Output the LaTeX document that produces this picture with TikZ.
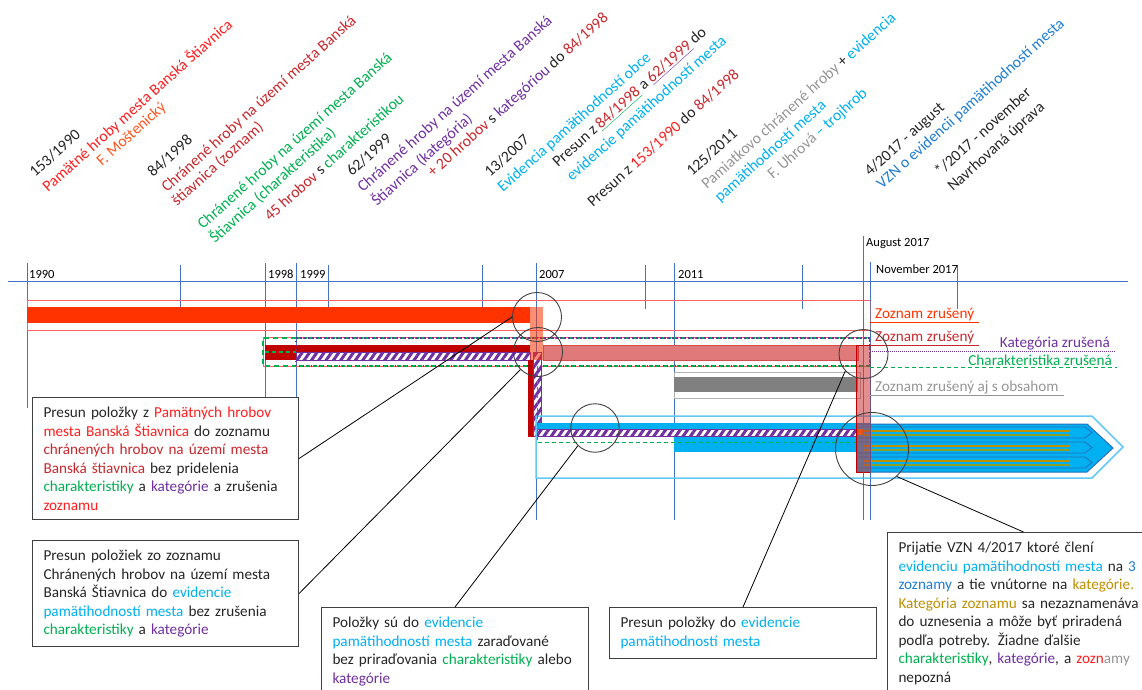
\documentclass[tikz,border=0pt]{standalone}
\usepackage{fontspec}
\setmainfont{Carlito}
\usetikzlibrary{patterns.meta}

\definecolor{txt}{RGB}{38,38,38}
\definecolor{tickblue}{RGB}{68,114,196}
\definecolor{zred}{RGB}{255,30,30}
\definecolor{zorange}{RGB}{255,51,0}
\definecolor{zorangetxt}{RGB}{255,85,30}
\definecolor{zdark}{RGB}{192,0,0}
\definecolor{zdarktxt}{RGB}{200,40,45}
\definecolor{zlight}{RGB}{255,100,100}
\definecolor{salmon}{RGB}{224,122,122}
\definecolor{chgreen}{RGB}{0,176,80}
\definecolor{katpurple}{RGB}{112,48,160}
\definecolor{evblue}{RGB}{0,176,240}
\definecolor{lightblue}{RGB}{100,200,245}
\definecolor{darkblue}{RGB}{40,110,190}
\definecolor{vznblue}{RGB}{30,125,210}
\definecolor{katgold}{RGB}{191,144,0}
\definecolor{olivegreen}{RGB}{140,160,40}
\definecolor{greytxt}{RGB}{150,150,150}
\definecolor{zgrey}{RGB}{128,128,128}
\definecolor{ringgrey}{RGB}{64,64,64}

\newcommand\myboxfont{\fontsize{15.2}{18.5}\selectfont}
\newcommand\mylabelfont{\fontsize{15.8}{19}\selectfont}
\newcommand\myyearfont{\fontsize{12.5}{14}\selectfont}

\begin{document}
\begin{tikzpicture}[x=1pt,y=-1pt,
        mytick/.style={draw=tickblue,line width=1pt},
        mybox/.style={
            draw=ringgrey,
            line width=1pt,
            fill=white,
            anchor=north west,
            align=left,
            inner xsep=11pt,
            inner ysep=9.5pt,
            text=txt,
            font=\myboxfont},
        mylabel/.style={rotate=42,anchor=base west,inner sep=0pt,text=txt,font=\mylabelfont},
        myyear/.style={anchor=west,inner sep=0pt,text=black,font=\myyearfont},
        mystatus/.style={anchor=south west,inner xsep=5pt,inner ysep=1pt,font=\myboxfont},
        myring/.style={circle,draw=ringgrey,line width=0.9pt,minimum size=49pt,inner sep=0pt},
        mycallout/.style={draw=black,line width=0.8pt},
        myhatch/.style={fill=white,draw=katpurple,line width=0.6pt,
            postaction={pattern={Lines[angle=55,distance=6pt,line width=3pt]},pattern color=katpurple}},
        mygreendash/.style={draw=chgreen,dash pattern=on 4pt off 3pt}
        ]
    \useasboundingbox (0,0) rectangle (1142,690);
    \clip (0,0) rectangle (1142,690);

    % time axis
    \foreach \x/\ya/\yb in {27/263/408, 180/265/309, 265/263/408, 296/263/408,
                            328/265/309, 482/265/309, 536/263/520, 645/265/309,
                            674/263/520, 802/265/309, 863/236/520, 870/262/520, 957/265/309}
        \draw[mytick] (\x,\ya) -- (\x,\yb);
    \draw[mytick] (8,281) -- (1128,281);

    \node[myyear] (y1) at (29,274) {1990};
    \node[myyear] (y2) at (268,274) {1998};
    \node[myyear] (y3) at (300,274) {1999};
    \node[myyear] (y4) at (539,274) {2007};
    \node[myyear] (y5) at (678,274) {2011};
    \node[myyear] (y6) at (866,244) {August 2017};
    \node[myyear] (y7) at (876,269) {November 2017};

    % 153/1990
    \draw[zlight,line width=1pt] (27,300.5) rectangle (870,330);
    \fill[zorange] (27,307) rectangle (530,323);

    % 84/1998 and 62/1999
    \draw[zlight,line width=1pt] (263,337) rectangle (870,366);
    \fill[zdark] (265,345) rectangle (530,360);
    \path[myhatch] (296,352) rectangle (530,360);
    \draw[chgreen,line width=2pt,dash pattern=on 5pt off 4pt] (296,338) -- (263,338) -- (263,366) -- (296,366);
    \draw[mygreendash,line width=1.3pt] (265,352) -- (296,352);
    \draw[mygreendash,line width=2pt] (296,338) -- (870,338) -- (870,366) -- (296,366);
    \draw[katpurple,line width=2pt,dash pattern=on 1.5pt off 2.5pt] (296,338) -- (870,338) -- (870,366) -- (296,366) -- cycle;
    \filldraw[fill=salmon,draw=zdark!70,line width=0.6pt] (543,345) rectangle (858,360);

    \fill[zdark] (528,360) rectangle (533,437);
    \path[myhatch] (533,352) rectangle (541,436);
    \fill[zorange,opacity=0.55] (530,307) rectangle (543,360);

    % 125/2011
    \draw[zgrey!60,line width=1pt] (674,372) rectangle (860,398);
    \fill[zgrey] (674,377) rectangle (858,392);

    % 13/2007 and 4/2017
    \draw[lightblue,line width=1.5pt] (536,416) -- (1092,416) -- (1123,447) -- (1092,478) -- (536,478) -- cycle;
    \fill[evblue] (537,423) rectangle (674,429);
    \fill[evblue] (674,423) rectangle (870,452);
    \path[myhatch] (537,429) rectangle (860,436);
    \draw[mygreendash,line width=1pt] (537,366) -- (537,442) -- (863,442);
    \filldraw[fill=evblue,draw=darkblue,line width=1pt] (857,424) -- (1087,424) -- (1113,448) -- (1087,472) -- (857,472) -- cycle;
    \foreach \t in {427,442,457} {
        \draw[darkblue,line width=0.8pt] (857,\t) -- (1085,\t) -- (1092,\t+5.5) -- (1085,\t+11) -- (857,\t+11) -- cycle;
        \draw[katgold,line width=1.2pt] (863,\t+4) -- (1070,\t+4);
        \draw[olivegreen,line width=1.2pt] (863,\t+8) -- (1070,\t+8);
    }
    \fill[orange] (858,429) rectangle (864,435);
    \filldraw[fill=zdark!80!white,fill opacity=0.55,draw=zdark,line width=0.8pt] (856,345) rectangle (870,472);
    \draw[mytick,opacity=0.7] (863,300) -- (863,520);
    \draw[mytick,opacity=0.7] (870,300) -- (870,520);

    % end of the lists
    \coordinate (k0) at (870,351);
    \coordinate (h0) at (870,367);
    \node[mystatus,text=zorange] (s1) at (870,322) {Zoznam zrušený};
    \draw[zorange,line width=1pt] (s1.south west) -- (s1.south east);
    \node[mystatus,text=zdarktxt] (s2) at (870,345) {Zoznam zrušený};
    \draw[zdarktxt,line width=1pt] (s2.south west) -- (s2.south east);
    \node[mystatus,anchor=south east,text=katpurple] (s3) at (1115,351) {Kategória zrušená};
    \draw[katpurple,line width=1pt,dash pattern=on 1pt off 1pt] (k0) -- (s3.south east);
    \node[mystatus,anchor=south east,text=chgreen] (s4) at (1117,367) {Charakteristika zrušená};
    \draw[mygreendash,line width=1pt] (h0) -- (s4.south east);
    \node[mystatus,text=greytxt] (s5) at (870,395) {Zoznam zrušený aj s obsahom};
    \draw[greytxt,line width=1pt] (s5.south west) -- (s5.south east);

    % rotated notes above the axis
    \node[mylabel] (l1a) at (35,178) {153/1990};
    \node[mylabel,text=zred] (l1b) at (48,193) {Pamätné hroby mesta Banská Štiavnica};
    \node[mylabel,text=zorangetxt] (l1c) at (102,167) {F. Moštenický};
    \node[mylabel] (l2a) at (153,178) {84/1998};
    \node[mylabel,text=zdarktxt] (l2b) at (167,193) {Chránené hroby na území mesta Banská};
    \node[mylabel,text=zdarktxt] (l2c) at (177,207) {štiavnica (zoznam)};
    \node[mylabel,text=chgreen] (l3a) at (203,230) {Chránené hroby na území mesta Banská};
    \node[mylabel,text=chgreen] (l3b) at (215,244) {Štiavnica (charakteristika)};
    \node[mylabel] (l3c) at (270,222) {\textcolor{zdarktxt}{45 hrobov} s \textcolor{chgreen}{charakteristikou}};
    \node[mylabel] (l4a) at (352,177) {62/1999};
    \node[mylabel,text=katpurple] (l4b) at (363,193) {Chránené hroby na území mesta Banská};
    \node[mylabel,text=katpurple] (l4c) at (377,207) {Štiavnica (kategória)};
    \node[mylabel] (l4d) at (433,178) {\textcolor{zdarktxt}{+ 20 hrobov} s \textcolor{katpurple}{kategóriou} do \textcolor{zdarktxt}{84/1998}};
    \node[mylabel] (l5a) at (490,178) {13/2007};
    \node[mylabel,text=evblue] (l5b) at (503,193) {Evidencia pamätihodností obce};
    \node[mylabel] (l6a) at (558,168) {Presun z {\color{chgreen}\underline{\textcolor{zdarktxt}{84/1998}}} a {\color{katpurple}\underline{\textcolor{zdarktxt}{62/1999}}} do};
    \node[mylabel,text=evblue] (l6b) at (572,182) {evidencie pamätihodností mesta};
    \node[mylabel] (l6c) at (593,208) {Presun z \textcolor{zred}{153/1990} do \textcolor{zdarktxt}{84/1998}};
    \node[mylabel] (l7a) at (692,177) {125/2011};
    \node[mylabel] (l7b) at (707,190) {\textcolor{greytxt}{Pamiatkovo chránené hroby} + \textcolor{evblue}{evidencia}};
    \node[mylabel,text=evblue] (l7c) at (720,203) {pamätihodností mesta};
    \node[mylabel] (l7d) at (773,180) {\textcolor{greytxt}{F. Uhrová} \textcolor{evblue}{– trojhrob}};
    \node[mylabel] (l8a) at (870,177) {4/2017 - august};
    \node[mylabel,text=vznblue] (l8b) at (882,190) {VZN o evidencii pamätihodností mesta};
    \node[mylabel] (l9a) at (940,177) {*/2017 - november};
    \node[mylabel] (l9b) at (953,192) {Navrhovaná úprava};

    % circles and callouts
    \node[myring] (c1) at (537,317) {};
    \node[myring] (c2) at (538,352) {};
    \node[myring,minimum size=48.5pt] (c3) at (595,428) {};
    \node[myring] (c4) at (863.5,354) {};
    \node[myring,minimum size=73pt] (c5) at (872,449) {};

    \node[mybox,text width=244pt] (b1) at (32,397) {Presun položky z \textcolor{zred}{Pamätných hrobov}\\
        \textcolor{zred}{mesta Banská Štiavnica} do zoznamu\\
        \textcolor{zdarktxt}{chránených hrobov na území mesta}\\
        \textcolor{zdarktxt}{Banská štiavnica} bez pridelenia\\
        \textcolor{chgreen}{charakteristiky} a \textcolor{katpurple}{kategórie} a zrušenia\\
        \textcolor{zred}{zoznamu}};
    \node[mybox,text width=244pt] (b2) at (32,540) {Presun položiek zo zoznamu\\
        Chránených hrobov na území mesta\\
        Banská Štiavnica do \textcolor{evblue}{evidencie}\\
        \textcolor{evblue}{pamätihodností mesta} bez zrušenia\\
        \textcolor{chgreen}{charakteristiky} a \textcolor{katpurple}{kategórie}};
    \node[mybox,text width=245pt] (b3) at (321,607) {Položky sú do \textcolor{evblue}{evidencie}\\
        \textcolor{evblue}{pamätihodností mesta} zaraďované\\
        bez priraďovania \textcolor{chgreen}{charakteristiky} alebo\\
        \textcolor{katpurple}{kategórie}};
    \node[mybox,text width=245pt] (b4) at (609,607) {Presun položky do \textcolor{evblue}{evidencie}\\
        \textcolor{evblue}{pamätihodností mesta}};
    \node[mybox,text width=250pt] (b5) at (887,532) {Prijatie VZN 4/2017 ktoré člení\\
        \textcolor{evblue}{evidenciu pamätihodností mesta} na \textcolor{vznblue}{3}\\
        \textcolor{vznblue}{zoznamy} a tie vnútorne na \textcolor{katgold}{kategórie.}\\
        \textcolor{katgold}{Kategória zoznamu} sa nezaznamenáva\\
        do uznesenia a môže byť priradená\\
        podľa potreby. Žiadne ďalšie\\
        \textcolor{chgreen}{charakteristiky}, \textcolor{katpurple}{kategórie}, a \textcolor{zred}{zozn}\textcolor{greytxt}{amy}\\
        nepozná};

    \foreach \i/\j in {% box/circle
        b1.east/c1.west,
        b2.east/c2.225,
        b3.north/c3.226,
        b4.north/c4.223,
        b5.north/c5.312}
        \draw[mycallout] (\i) -- (\j);
\end{tikzpicture}
\end{document}
